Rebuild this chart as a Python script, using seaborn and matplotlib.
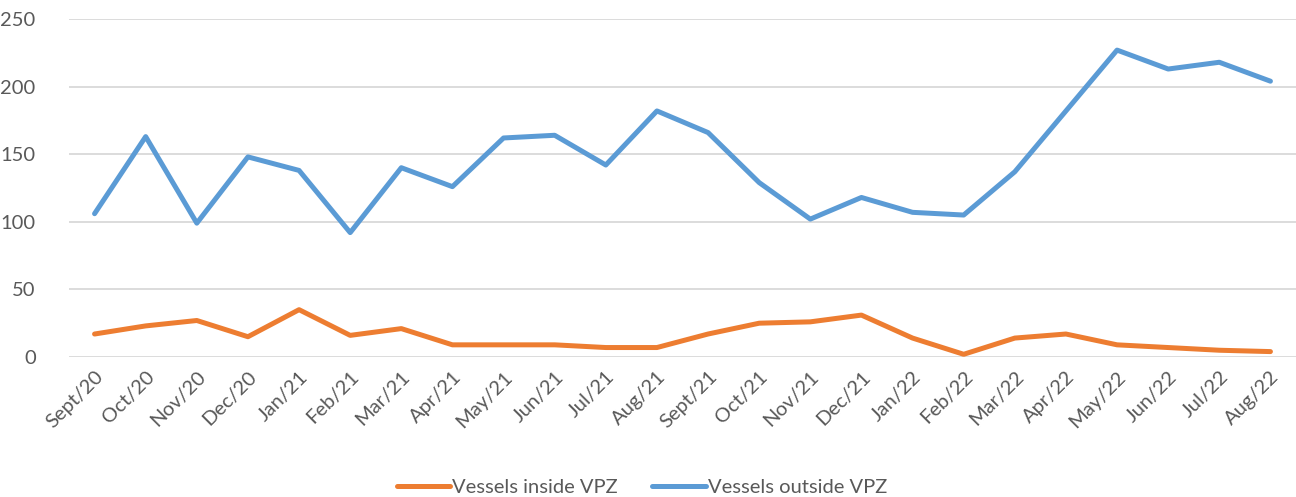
import numpy as np
import pandas as pd
import matplotlib
matplotlib.use("Agg")
import matplotlib.pyplot as plt
import seaborn as sns

months = ['Sept/20', 'Oct/20', 'Nov/20', 'Dec/20', 'Jan/21', 'Feb/21', 'Mar/21', 'Apr/21',
          'May/21', 'Jun/21', 'Jul/21', 'Aug/21', 'Sept/21', 'Oct/21', 'Nov/21', 'Dec/21',
          'Jan/22', 'Feb/22', 'Mar/22', 'Apr/22', 'May/22', 'Jun/22', 'Jul/22', 'Aug/22']
inside_vpz = [17, 23, 27, 15, 35, 16, 21, 9, 9, 9, 7, 7, 17, 25, 26, 31, 14, 2, 14, 17, 9, 7, 5, 4]
outside_vpz = [106, 163, 99, 148, 138, 92, 140, 126, 162, 164, 142, 182, 166, 129, 102, 118,
               107, 105, 137, 182, 227, 213, 218, 204]
series_names = ['Vessels inside VPZ', 'Vessels outside VPZ']

df = pd.DataFrame({'month': months * 2,
                   'pos': list(range(len(months))) * 2,
                   'count': inside_vpz + outside_vpz,
                   'series': [series_names[0]] * len(months) + [series_names[1]] * len(months)})

sns.set_style('white')
plt.rcParams['font.family'] = ['Lato', 'DejaVu Sans']
text_col = '#595959'

fig = plt.figure(figsize=(12.96, 4.97), dpi=100)
ax = fig.add_axes([69 / 1296, 1 - 357 / 497, 1 - 69 / 1296, (357 - 19) / 497])

sns.lineplot(data=df, x='pos', y='count', hue='series', hue_order=series_names,
             palette=['#ED7D31', '#5B9BD5'], linewidth=3.6, ax=ax, legend=True)
for ln in ax.lines:
    ln.set_clip_on(False)
    ln.set_solid_capstyle('round')
    ln.set_solid_joinstyle('round')

ax.set_xlim(-0.5, len(months) - 0.5)
ax.set_ylim(0, 250)
ax.set_yticks(range(0, 251, 50))
ax.set_xticks(range(len(months)))
ax.set_xticklabels(months, rotation=45, ha='right', rotation_mode='anchor')
ax.tick_params(axis='x', length=0, pad=8, labelsize=14.5, labelcolor=text_col)
ax.tick_params(axis='y', length=0, pad=24, labelsize=14.5, labelcolor=text_col)
ax.yaxis.grid(True, color='#D9D9D9', linewidth=1.3)
ax.set_axisbelow(True)
for s in ax.spines.values():
    s.set_visible(False)
ax.set_xlabel('')
ax.set_ylabel('')

handles, labels = ax.get_legend_handles_labels()
ax.legend(handles, labels, loc='center', bbox_to_anchor=(642 / 1296, 1 - 487 / 497),
          bbox_transform=fig.transFigure,
          ncol=2, frameon=False, fontsize=14.5, handlelength=2.65, handletextpad=0.1,
          columnspacing=1.7, labelcolor=text_col)

fig.savefig('out.png', dpi=100)
